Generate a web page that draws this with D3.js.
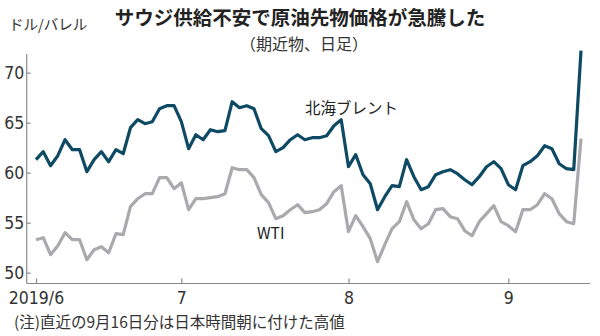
<!DOCTYPE html>
<html>
<head>
<meta charset="utf-8">
<script src="https://cdn.jsdelivr.net/npm/d3@7"></script>
<style>
html,body{margin:0;padding:0;background:#fff;}
svg{display:block;}
</style>
</head>
<body>
<script>
// Trading-day index series (2019/6/3 .. 2019/9/16)
const brent = [
  61.3, 62.1, 60.7, 61.7, 63.3, 62.3, 62.3, 60.1, 61.3, 62.1,
  61.1, 62.3, 61.9, 64.5, 65.3, 64.9, 65.1, 66.4, 66.7, 66.7,
  65.1, 62.4, 63.8, 63.3, 64.3, 64.1, 64.2, 67.1, 66.5, 66.7,
  66.4, 64.4, 63.7, 62.1, 62.5, 63.3, 63.8, 63.3, 63.5, 63.5,
  63.7, 64.7, 65.3, 60.6, 61.8, 59.8, 58.9, 56.3, 57.6, 58.7,
  58.6, 61.3, 59.6, 58.3, 58.6, 59.8, 60.1, 60.3, 59.9, 59.3,
  58.8, 59.6, 60.6, 61.1, 60.4, 58.8, 58.3, 60.7, 61.1, 61.7,
  62.7, 62.4, 60.9, 60.4, 60.3, 72.2
];
const wti = [
  53.3, 53.5, 51.8, 52.7, 54.0, 53.3, 53.3, 51.3, 52.3, 52.6,
  52.0, 53.9, 53.8, 56.6, 57.4, 57.9, 57.9, 59.5, 59.5, 58.4,
  59.0, 56.3, 57.4, 57.4, 57.5, 57.6, 57.9, 60.5, 60.3, 60.3,
  59.5, 57.8, 57.0, 55.4, 55.7, 56.3, 56.8, 56.0, 56.1, 56.3,
  56.9, 58.1, 58.7, 54.1, 55.7, 54.6, 53.4, 51.1, 52.8, 54.4,
  55.1, 57.1, 55.3, 54.4, 54.9, 56.3, 56.4, 55.6, 55.4, 54.2,
  53.7, 55.1, 55.9, 56.7, 55.1, 54.7, 54.1, 56.3, 56.3, 56.8,
  57.9, 57.4, 55.9, 55.1, 54.9, 63.4
];
const xTickIndex = [0, 20, 43, 65];
const xTickLabels = ["2019/6", "7", "8", "9"];
const yTicks = [50, 55, 60, 65, 70];
const seriesNames = ["北海ブレント", "WTI"];
const titleText = "サウジ供給不安で原油先物価格が急騰した";
const subtitleText = "（期近物、日足）";
const unitText = "ドル/バレル";
const noteText = "(注)直近の9月16日分は日本時間朝に付けた高値";

const W = 600, H = 336;
const svg = d3.select("body").append("svg").attr("width", W).attr("height", H);

const x = d3.scaleLinear().domain([0, brent.length - 1]).range([36, 581]);
const y = d3.scaleLinear().domain([50, 70]).range([272.7, 72.7]);

const axisColor = "#8a8a8a";
const numFont = "'Liberation Sans Narrow','DejaVu Sans Condensed','Noto Sans',sans-serif";
const jpFont = "'Noto Sans CJK JP','Noto Sans',sans-serif";

// Title
svg.append("text").attr("x", 300).attr("y", 25).attr("text-anchor", "middle")
  .attr("font-family", jpFont).attr("font-weight", 700).attr("font-size", 19.5)
  .attr("fill", "#222").text(titleText);
svg.append("text").attr("x", 304).attr("y", 50).attr("text-anchor", "middle")
  .attr("font-family", jpFont).attr("font-size", 16).attr("fill", "#333").text(subtitleText);
svg.append("text").attr("x", 9).attr("y", 30)
  .attr("font-family", jpFont).attr("font-size", 14.5).attr("fill", "#333").text(unitText);

// Axes
const axisX = 26.7, axisYb = 283.5;
svg.append("line").attr("x1", axisX).attr("x2", axisX).attr("y1", 54).attr("y2", axisYb)
  .attr("stroke", axisColor).attr("stroke-width", 1.2);
svg.append("line").attr("x1", axisX).attr("x2", 590).attr("y1", axisYb).attr("y2", axisYb)
  .attr("stroke", axisColor).attr("stroke-width", 1.2);

const yAxis = d3.axisLeft(y).tickValues(yTicks).tickSize(-4).tickPadding(6);
const gy = svg.append("g").attr("transform", `translate(${axisX},0)`).call(yAxis);
gy.select(".domain").remove();
gy.selectAll(".tick line").attr("stroke", axisColor).attr("stroke-width", 1.2);
gy.selectAll(".tick text").attr("font-family", numFont).attr("font-size", 17.5)
  .attr("fill", "#333").attr("x", -2.5);

const xAxis = d3.axisBottom(x).tickValues(xTickIndex)
  .tickFormat((d, i) => xTickLabels[i]).tickSize(-5).tickPadding(8);
const gx = svg.append("g").attr("transform", `translate(0,${axisYb})`).call(xAxis);
gx.select(".domain").remove();
gx.selectAll(".tick line").attr("stroke", axisColor).attr("stroke-width", 1.2);
gx.selectAll(".tick text").attr("font-family", numFont).attr("font-size", 17.5)
  .attr("fill", "#333").attr("y", 8);

// Lines
const line = d3.line().x((d, i) => x(i)).y(d => y(d));
svg.append("path").datum(wti).attr("d", line).attr("fill", "none")
  .attr("stroke", "#a9a9ae").attr("stroke-width", 3.2).attr("stroke-linejoin", "round");
svg.append("path").datum(brent).attr("d", line).attr("fill", "none")
  .attr("stroke", "#0e4a64").attr("stroke-width", 3.2).attr("stroke-linejoin", "round");

// Series labels
svg.append("text").attr("x", 305).attr("y", 114)
  .attr("font-family", jpFont).attr("font-size", 15.5).attr("fill", "#222").text(seriesNames[0]);
svg.append("text").attr("x", 257).attr("y", 238.5)
  .attr("font-family", jpFont).attr("font-size", 15.5).attr("fill", "#222").text(seriesNames[1]);

// Note
svg.append("text").attr("x", 14).attr("y", 328)
  .attr("font-family", jpFont).attr("font-size", 15.5).attr("fill", "#333").text(noteText);
</script>
</body>
</html>
